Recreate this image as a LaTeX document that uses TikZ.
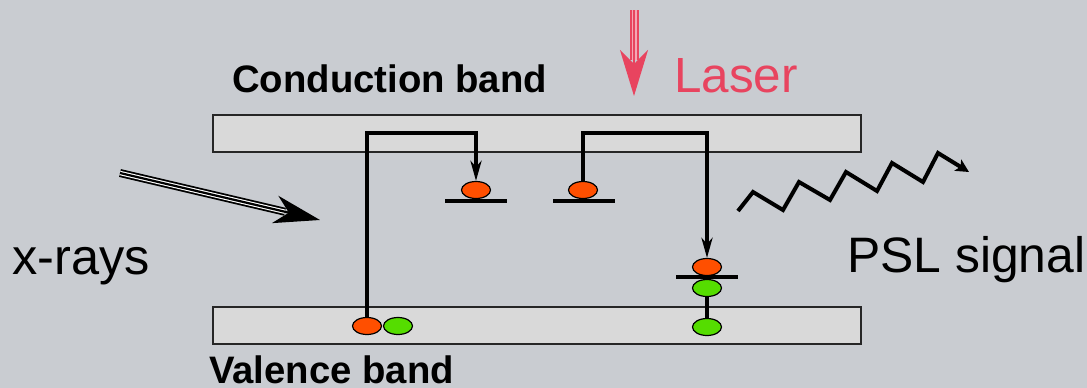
\documentclass[tikz,border=0pt]{standalone}
\usepackage{fontspec}
\setmainfont{Liberation Sans}
\usetikzlibrary{arrows.meta,calc,shapes.geometric}
\definecolor{bg}{HTML}{C9CCD1}
\definecolor{bandfill}{HTML}{D9D9D9}
\definecolor{eorange}{HTML}{FF4F00}
\definecolor{hgreen}{HTML}{55DD00}
\definecolor{laserred}{HTML}{E8445F}
\definecolor{laserpale}{HTML}{F4A6B4}
\tikzset{
  band/.style={draw=black!85, line width=1.6pt, fill=bandfill, minimum width=648pt, minimum height=37pt, inner sep=0pt},
  carrier/.style={ellipse, draw=black, line width=1.2pt, minimum width=29pt, minimum height=17pt, inner sep=0pt},
  electron/.style={carrier, fill=eorange},
  hole/.style={carrier, fill=hgreen},
  trap/.style={line width=4pt},
  path/.style={line width=3.5pt, line cap=butt, line join=miter},
  tip/.style={-{Stealth[length=20pt,width=11pt,inset=6pt]}},
  bigtip/.style={-{Stealth[length=46pt,width=28pt,inset=14pt]}},
  label/.style={anchor=base west, inner sep=0pt, text=black},
}
\begin{document}
\begin{tikzpicture}[x=1pt,y=-1pt]
\fill[bg] (0,0) rectangle (1087,388);
\useasboundingbox (0,0) rectangle (1087,388);

% energy bands
\node[band] (cb) at (537,133.5) {};
\node[band] (vb) at (537,325.5) {};

% band labels
\node[label, font=\fontsize{38.3}{42}\selectfont\bfseries] (cbl) at (232,92) {Conduction band};
\node[label, font=\fontsize{38.3}{42}\selectfont\bfseries] (vbl) at (209,383) {Valence band};
\node[label, font=\fontsize{50.5}{55}\selectfont] (xl) at (12,274) {x-rays};
\node[label, font=\fontsize{49.8}{55}\selectfont] (psl) at (847,272) {PSL signal};
\node[label, font=\fontsize{49.4}{55}\selectfont, text=laserred] (ll) at (674,92) {Laser};

% carriers
\node[electron] (eV) at (367,326) {};
\node[hole] (hV) at (398,326) {};
\node[hole] (hV2) at (707,327) {};
\node[electron] (eT1) at (476,190) {};
\node[electron] (eT2) at (583,190) {};
\node[electron] (eT3) at (707,267) {};
\node[hole] (hT3) at (707,288) {};

% trap levels
\draw[trap] (445,201) -- (507,201);
\draw[trap] (553,201) -- (615,201);
\draw[trap] (676,277) -- (738,277);

% transitions
\coordinate (top1) at (476,133);
\coordinate (top2) at (707,133);
\draw[path, tip] (eV.north) |- (top1) -- (eT1.north);
\draw[path, tip] (eT2.north) |- (top2) -- (eT3.north);
\draw[path] (hT3.south) -- (hV2.north);

% incoming x-rays
\coordinate (xs) at (120,173);
\coordinate (xt) at (320,220);
\draw[line width=8pt, shorten >=36pt] (xs) -- (xt);
\draw[line width=4.4pt, white, shorten >=36pt] (xs) -- (xt);
\draw[line width=2.2pt, bigtip] (xs) -- (xt);

% stimulating laser
\coordinate (ls) at (634,10);
\coordinate (lt) at (634,96);
\draw[line width=9pt, laserred, shorten >=36pt] (ls) -- (lt);
\draw[line width=5pt, laserpale, shorten >=36pt] (ls) -- (lt);
\draw[line width=2pt, laserred, bigtip] (ls) -- (lt);

% emitted photostimulated luminescence
\draw[line width=4pt, line join=miter, -{Stealth[length=13pt,width=13pt,inset=3pt]}]
  (738,211) -- (753,192) -- (783,210) -- (799,182) -- (830,200) -- (846,172)
  -- (877,191) -- (892,163) -- (923,182) -- (938,153) -- (969,172);
\end{tikzpicture}
\end{document}
